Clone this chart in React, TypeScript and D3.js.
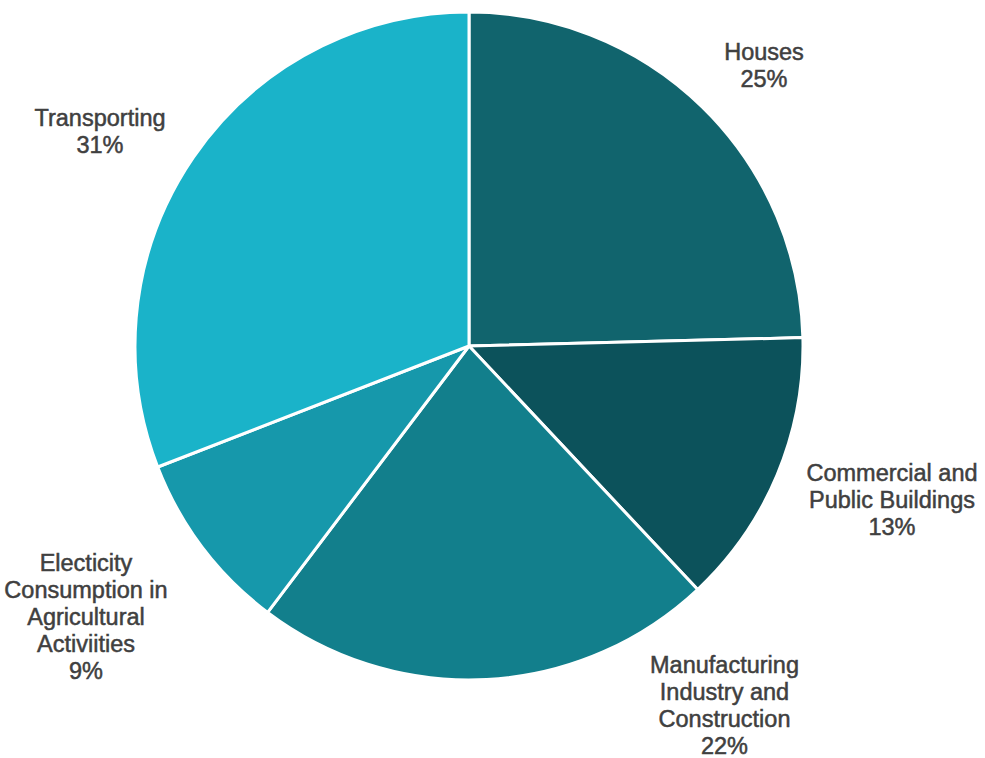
import React from "react";
import * as d3 from "d3";

const categories = [
  "Houses",
  "Commercial and Public Buildings",
  "Manufacturing Industry and Construction",
  "Electicity Consumption in Agricultural Activiities",
  "Transporting",
];
const values = [24.6, 13.4, 22.3, 8.8, 30.9];
const percentLabels = ["25%", "13%", "22%", "9%", "31%"];
const labelLines = [
  ["Houses"],
  ["Commercial and", "Public Buildings"],
  ["Manufacturing", "Industry and", "Construction"],
  ["Electicity", "Consumption in", "Agricultural", "Activiities"],
  ["Transporting"],
];
const colors = ["#11646d", "#0c525b", "#127f8c", "#1698ab", "#1ab3c9"];

// label layout (center x, first line baseline y)
const labelPos: [number, number][] = [
  [764, 60],
  [892, 480.5],
  [724.5, 672.5],
  [86, 570.5],
  [100, 125.5],
];

const W = 985;
const H = 758;
const cx = 469;
const cy = 346;
const R = 334;

export default function App() {
  const pie = d3
    .pie<number>()
    .sort(null)
    .value((d) => d)(values);
  const arc = d3.arc<d3.PieArcDatum<number>>().innerRadius(0).outerRadius(R);
  const lh = 27;
  return (
    <svg
      width={W}
      height={H}
      style={{ position: "absolute", left: 0, top: 0, background: "#fff" }}
    >
      <g transform={`translate(${cx},${cy})`}>
        {pie.map((p, i) => (
          <path
            key={categories[i]}
            d={arc(p) || ""}
            fill={colors[i]}
            stroke="#fff"
            strokeWidth={3}
            strokeLinejoin="round"
          />
        ))}
      </g>
      {labelLines.map((lines, i) => {
        const [x, y] = labelPos[i];
        const all = [...lines, percentLabels[i]];
        return (
          <text
            key={i}
            textAnchor="middle"
            fontFamily="'Liberation Sans', Arial, sans-serif"
            fontWeight={400}
            fontSize={23.5}
            fill="#404040"
            stroke="#404040"
            strokeWidth={0.5}
          >
            {all.map((t, j) => (
              <tspan key={j} x={x} y={y + j * lh}>
                {t}
              </tspan>
            ))}
          </text>
        );
      })}
    </svg>
  );
}
